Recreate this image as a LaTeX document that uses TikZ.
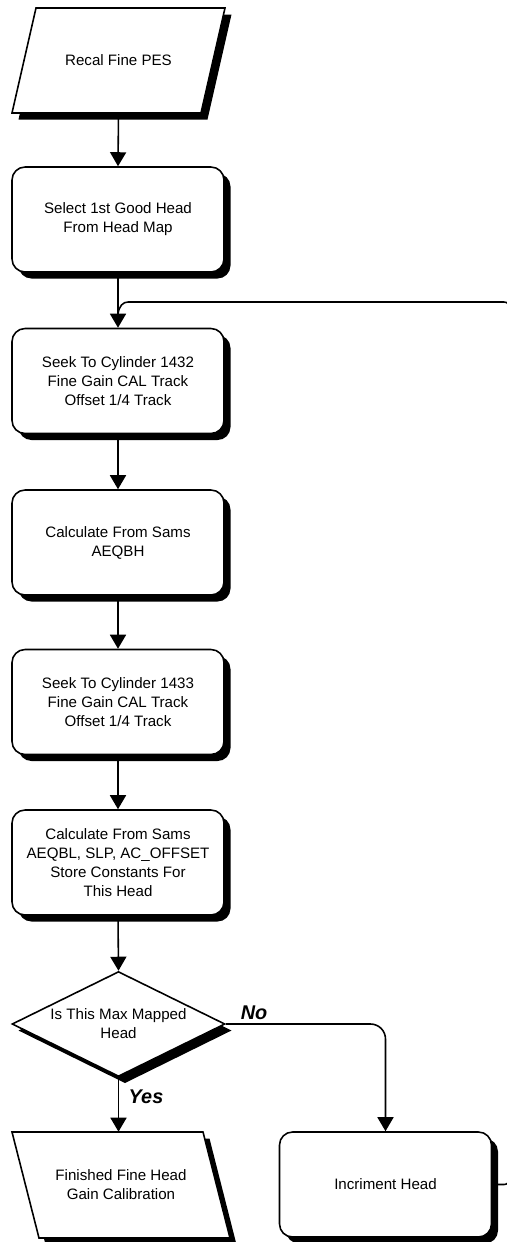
\documentclass[tikz,border=0pt]{standalone}
\usepackage{fontspec}
\setmainfont{Liberation Sans}
\usetikzlibrary{arrows.meta,shapes.geometric,calc}
\def\shoff{6.5}
\begin{document}
\begin{tikzpicture}[x=0.02cm,y=-0.02cm,
  line width=0.9pt,
  every node/.style={font=\fontsize{8.6}{10.8}\selectfont, align=center},
  shadowfill/.style={fill=black},
  procbox/.style={draw, fill=white, rounded corners=0.26cm, minimum width=4.24cm, minimum height=2.1cm, inner sep=0pt},
  decbox/.style={diamond, aspect=2, draw, fill=white, minimum width=4.26cm, minimum height=2.1cm, inner sep=0pt},
  iobox/.style={minimum height=2.1cm, inner sep=0pt},
  flow/.style={-{Triangle[width=0.32cm,length=0.28cm]}},
  lbl/.style={font=\fontsize{11.3}{13}\selectfont\bfseries\itshape}
]
\useasboundingbox (0,0) rectangle (507,1242);

% centres
\coordinate (c1) at (118.5,60.5);
\coordinate (c2) at (118,219.5);
\coordinate (c3) at (118,381);
\coordinate (c4) at (118,542.5);
\coordinate (c5) at (118,702);
\coordinate (c6) at (118,862.5);
\coordinate (cd) at (118.5,1024);
\coordinate (ci) at (385.5,1184.5);
\coordinate (cf) at (121,1185);

% shadows of the rounded boxes
\foreach \c in {c2,c3,c4,c5,c6,ci}
  \fill[shadowfill, rounded corners=0.26cm] ($(\c)+(-106+\shoff,-52.5+\shoff)$) rectangle ($(\c)+(106+\shoff,52.5+\shoff)$);
% shadow of the decision
\fill[shadowfill] ($(cd)+(\shoff,-52.5+\shoff)$) -- ($(cd)+(106.5+\shoff,\shoff)$) -- ($(cd)+(\shoff,52.5+\shoff)$) -- ($(cd)+(-106.5+\shoff,\shoff)$) -- cycle;
% input/output parallelograms with shadows
\fill[shadowfill] ($(c1)+(-106.5+\shoff,52.5+\shoff)$) -- ($(c1)+(82.5+\shoff,52.5+\shoff)$) -- ($(c1)+(106.5+\shoff,-52.5+\shoff)$) -- ($(c1)+(-82.5+\shoff,-52.5+\shoff)$) -- cycle;
\filldraw[fill=white] ($(c1)+(-106.5,52.5)$) -- ($(c1)+(82.5,52.5)$) -- ($(c1)+(106.5,-52.5)$) -- ($(c1)+(-82.5,-52.5)$) -- cycle;
\fill[shadowfill] ($(cf)+(-109+\shoff,-53+\shoff)$) -- ($(cf)+(82+\shoff,-53+\shoff)$) -- ($(cf)+(109+\shoff,53+\shoff)$) -- ($(cf)+(-82+\shoff,53+\shoff)$) -- cycle;
\filldraw[fill=white] ($(cf)+(-109,-53)$) -- ($(cf)+(82,-53)$) -- ($(cf)+(109,53)$) -- ($(cf)+(-82,53)$) -- cycle;

\node[iobox, minimum width=4.26cm] (p1) at (c1) {Recal Fine PES};
\node[procbox] (b2) at (c2) {Select 1st Good Head\\From Head Map};
\node[procbox] (b3) at (c3) {Seek To Cylinder 1432\\Fine Gain CAL Track\\Offset 1/4 Track};
\node[procbox] (b4) at (c4) {Calculate From Sams\\AEQBH};
\node[procbox] (b5) at (c5) {Seek To Cylinder 1433\\Fine Gain CAL Track\\Offset 1/4 Track};
\node[procbox] (b6) at (c6) {Calculate From Sams\\AEQBL, SLP, AC\_OFFSET\\Store Constants For\\This Head};
\node[decbox] (d) at (cd) {Is This Max Mapped\\Head};
\node[procbox] (inc) at (ci) {Incriment Head};
\node[iobox, minimum width=4.36cm] (f) at (cf) {Finished Fine Head\\Gain Calibration};

\draw[flow] (p1.south) -- (b2.north);
\draw[flow] (b2.south) -- (b3.north);
\draw[flow] (b3.south) -- (b4.north);
\draw[flow] (b4.south) -- (b5.north);
\draw[flow] (b5.south) -- (b6.north);
\draw[flow] (b6.south) -- (d.north);
\draw[flow] (d.south) -- (d.south |- f.north);
\draw[flow, rounded corners=0.3cm] (d.east) -| (inc.north);

\coordinate (j) at (118,314);
\coordinate (loopR) at (510,302);
\draw[rounded corners=0.12cm] (inc.east) -| (loopR) -- (134,302) .. controls (123,302) and (119,306) .. (j);

\node[lbl] (no) at (254,1013) {No};
\node[lbl] (yes) at (146,1097) {Yes};
\end{tikzpicture}
\end{document}
